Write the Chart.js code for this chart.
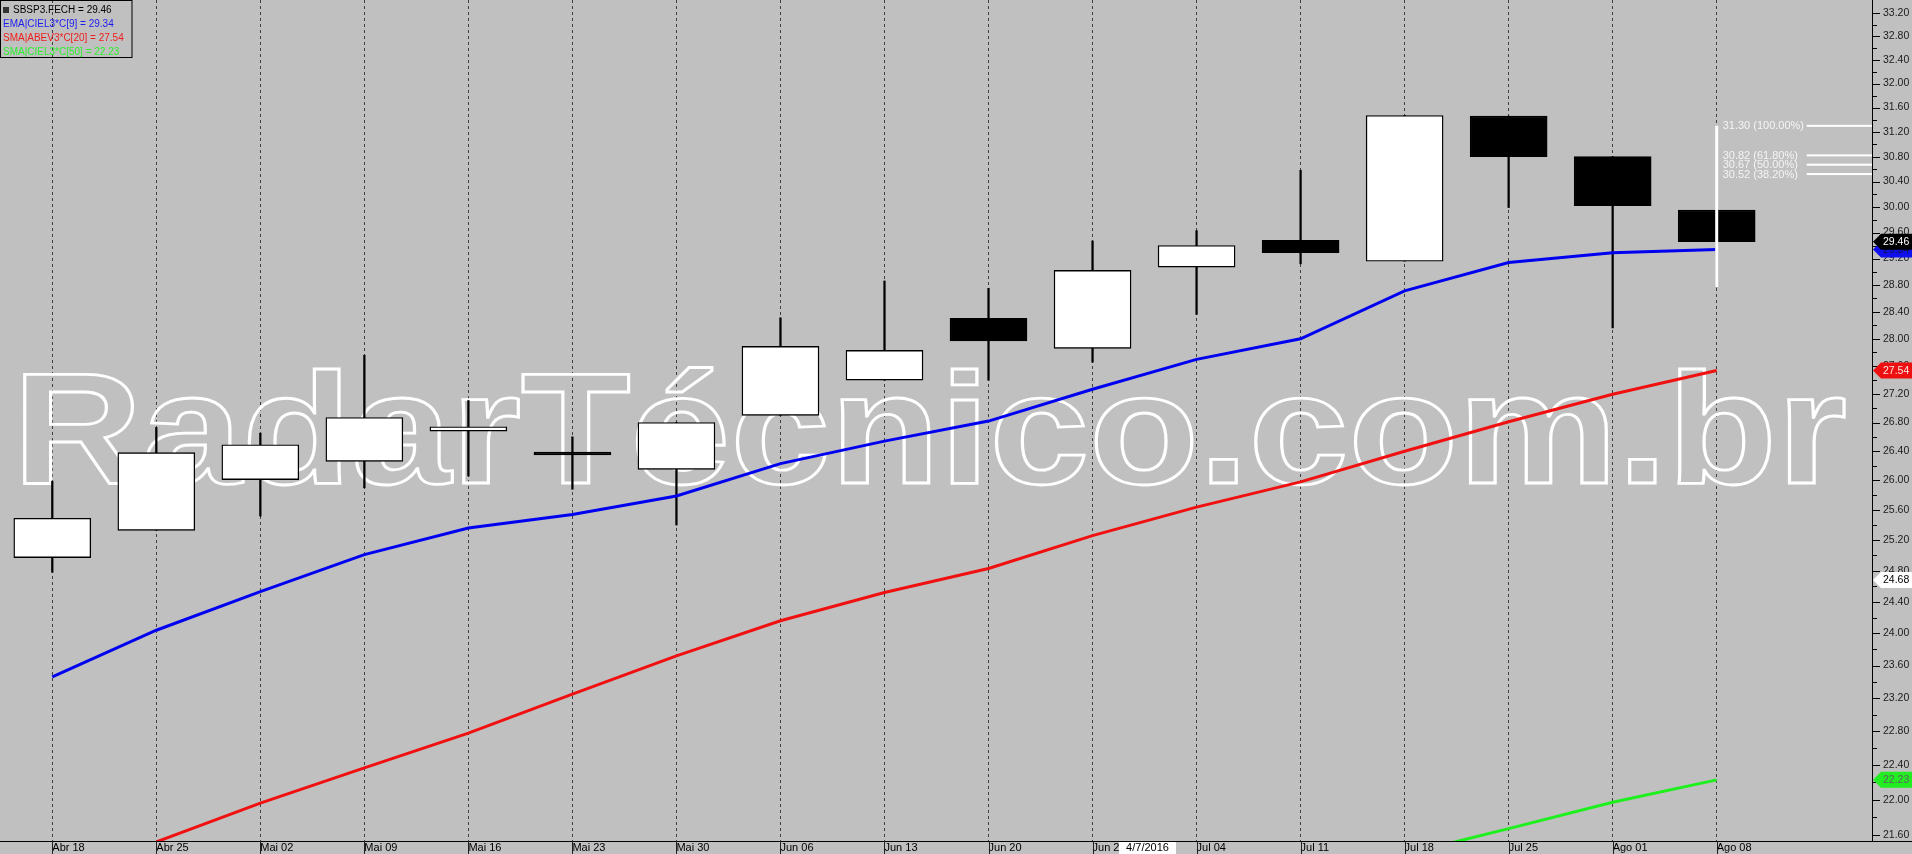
<!DOCTYPE html>
<html>
<head>
<meta charset="utf-8">
<title>SBSP3 semanal</title>
<script src="https://cdn.jsdelivr.net/npm/chart.js@4.4.1/dist/chart.umd.min.js"></script>
<style>
    html, body { margin: 0; padding: 0; background: #c0c0c0; overflow: hidden; }
</style>
</head>
<body>
<canvas id="chart" width="1912" height="854"></canvas>
<script>
// Weekly candles (SBSP3)
const weeks = ["Abr 18", "Abr 25", "Mai 02", "Mai 09", "Mai 16", "Mai 23", "Mai 30", "Jun 06", "Jun 13",
    "Jun 20", "Jun 27", "Jul 04", "Jul 11", "Jul 18", "Jul 25", "Ago 01", "Ago 08"];
const openPrices  = [24.97, 25.33, 26.01, 26.26, 26.68, 26.39, 26.15, 26.90, 27.40, 28.30, 27.86, 29.07, 29.48, 29.16, 31.46, 30.80, 29.95];
const closePrices = [25.49, 26.38, 26.49, 26.87, 26.74, 26.35, 26.80, 27.89, 27.83, 27.97, 29.02, 29.40, 29.29, 31.47, 30.80, 30.02, 29.46];
const highPrices  = [25.99, 26.73, 26.65, 27.76, 27.11, 26.60, 26.80, 28.31, 28.86, 28.75, 29.47, 29.63, 30.58, 31.47, 31.46, 30.80, 29.95];
const lowPrices   = [24.78, 25.33, 25.52, 25.90, 26.06, 25.88, 25.40, 26.90, 27.40, 27.40, 27.66, 28.36, 29.12, 29.16, 29.99, 28.16, 28.76];

// Indicators
const ema9  = [23.46, 24.04, 24.53, 25.01, 25.36, 25.54, 25.79, 26.23, 26.54, 26.82, 27.27, 27.70, 28.00, 28.71, 29.14, 29.29, 29.34];
const sma20 = [null, 21.52, 21.96, 22.37, 22.78, 23.25, 23.72, 24.16, 24.52, 24.83, 25.26, 25.64, 25.98, 26.40, 26.81, 27.20, 27.54];
const sma50 = [null, null, null, null, null, null, null, null, null, null, null, null, null, 21.38, 21.67, 21.97, 22.23];
const markerValue = 24.68;

// Fibonacci retracement
const fibValues = [31.30, 30.82, 30.67, 30.52];
const fibLabels = ["31.30 (100.00%)", "30.82 (61.80%)", "30.67 (50.00%)", "30.52 (38.20%)"];
const fibLow = 28.76;
const fibIndex = 16;

// Axis
const yTickLabels = ["21.60", "22.00", "22.40", "22.80", "23.20", "23.60", "24.00", "24.40", "24.80", "25.20",
    "25.60", "26.00", "26.40", "26.80", "27.20", "27.60", "28.00", "28.40", "28.80", "29.20",
    "29.60", "30.00", "30.40", "30.80", "31.20", "31.60", "32.00", "32.40", "32.80", "33.20"];
const yMin = 21.53;
const yMax = 33.43;
const xMin = -0.5027;
const xMax = 17.493;
const crosshairDate = "4/7/2016";

const FONT = '"Liberation Sans", Arial, sans-serif';

const bodyData = weeks.map((w, i) => ({ x: i, y: [openPrices[i], closePrices[i]] }));
const wickData = weeks.map((w, i) => ({ x: i, y: [lowPrices[i], highPrices[i]] }));
const bodyColors = weeks.map((w, i) => closePrices[i] >= openPrices[i] ? "#ffffff" : "#000000");
const toPoints = arr => arr.map((v, i) => ({ x: i, y: v }));

function drawTag(ctx, y, fill, textColor, text) {
    ctx.beginPath();
    ctx.moveTo(1873, y);
    ctx.lineTo(1881, y - 8);
    ctx.lineTo(1912, y - 8);
    ctx.lineTo(1912, y + 8);
    ctx.lineTo(1881, y + 8);
    ctx.closePath();
    ctx.fillStyle = fill;
    ctx.fill();
    ctx.fillStyle = textColor;
    ctx.fillText(text, 1883, y + 0.5);
}

const radarPlugin = {
    id: "radar",
    beforeDraw(chart) {
        const ctx = chart.ctx;
        ctx.save();
        ctx.fillStyle = "#c0c0c0";
        ctx.fillRect(0, 0, chart.width, chart.height);
        ctx.restore();
    },
    beforeDatasetsDraw(chart) {
        // watermark
        const ctx = chart.ctx;
        const text = "RadarTécnico.com.br";
        ctx.save();
        ctx.font = "bold 158px " + FONT;
        const m = ctx.measureText(text);
        const w = m.actualBoundingBoxLeft + m.actualBoundingBoxRight;
        const sx = (1845 - 24) / w;
        ctx.translate(24 + m.actualBoundingBoxLeft * sx, 482.5);
        ctx.scale(sx, 1);
        ctx.lineWidth = 2.8;
        ctx.strokeStyle = "#ffffff";
        ctx.strokeText(text, 0, 0);
        ctx.restore();
    },
    afterDatasetsDraw(chart) {
        // fibonacci lines
        const ctx = chart.ctx;
        const xs = chart.scales.x, ys = chart.scales.y;
        const fx = xs.getPixelForValue(fibIndex);
        const top = ys.getPixelForValue(fibValues[0]);
        const bottom = ys.getPixelForValue(fibLow);
        ctx.save();
        ctx.fillStyle = "#ffffff";
        ctx.fillRect(fx - 1.5, top, 3, bottom - top);
        ctx.font = "11px " + FONT;
        ctx.textBaseline = "middle";
        ctx.textAlign = "left";
        fibValues.forEach((v, i) => {
            const y = ys.getPixelForValue(v);
            ctx.fillStyle = "#f4f4f4";
            ctx.fillText(fibLabels[i], fx + 6, y + 0.5);
            ctx.fillStyle = "#ffffff";
            ctx.fillRect(fx + 90, y - 1, chart.chartArea.right - fx - 90, 2);
        });
        ctx.restore();
    },
    afterDraw(chart) {
        const ctx = chart.ctx;
        const xs = chart.scales.x, ys = chart.scales.y;
        const area = chart.chartArea;
        ctx.save();

        // axis lines
        ctx.strokeStyle = "#000000";
        ctx.lineWidth = 1;
        ctx.beginPath();
        ctx.moveTo(0, area.bottom + 0.5);
        ctx.lineTo(chart.width, area.bottom + 0.5);
        ctx.moveTo(area.right + 0.5, 0);
        ctx.lineTo(area.right + 0.5, area.bottom);
        ctx.stroke();

        // separators in the date row
        ctx.strokeStyle = "#202020";
        ctx.beginPath();
        weeks.forEach((w, i) => {
            const x = Math.round(xs.getPixelForValue(i)) + 0.5;
            ctx.moveTo(x, area.bottom);
            ctx.lineTo(x, chart.height);
        });
        ctx.stroke();

        // price ticks
        ctx.strokeStyle = "#000000";
        ctx.beginPath();
        yTickLabels.forEach((s, i) => {
            const v = parseFloat(s);
            const y = Math.round(ys.getPixelForValue(v)) + 0.5;
            ctx.moveTo(area.right, y);
            ctx.lineTo(area.right + 8, y);
            if (i < yTickLabels.length - 1) {
                const ym = Math.round(ys.getPixelForValue((v + parseFloat(yTickLabels[i + 1])) / 2)) + 0.5;
                ctx.moveTo(area.right, ym);
                ctx.lineTo(area.right + 5, ym);
            }
        });
        ctx.stroke();

        // price tags
        ctx.font = "10.5px " + FONT;
        ctx.textBaseline = "middle";
        ctx.textAlign = "left";
        drawTag(ctx, ys.getPixelForValue(markerValue), "#ffffff", "#000000", markerValue.toFixed(2));
        drawTag(ctx, ys.getPixelForValue(sma50.at(-1)), "#22ee22", "#606060", sma50.at(-1).toFixed(2));
        drawTag(ctx, ys.getPixelForValue(sma20.at(-1)), "#ee1010", "#ffe4e4", sma20.at(-1).toFixed(2));
        drawTag(ctx, ys.getPixelForValue(ema9.at(-1)), "#1010ee", "#101040", ema9.at(-1).toFixed(2));
        drawTag(ctx, ys.getPixelForValue(closePrices.at(-1)), "#000000", "#ffffff", closePrices.at(-1).toFixed(2));

        // legend box
        ctx.strokeStyle = "#000000";
        ctx.strokeRect(0.5, 0.5, 131.5, 57);
        ctx.fillStyle = "#333333";
        ctx.fillRect(3, 7, 6, 6);
        ctx.font = "10px " + FONT;
        const rows = [
            { text: "SBSP3.FECH = " + closePrices.at(-1).toFixed(2), color: "#000000", x: 13 },
            { text: "EMA|CIEL3*C[9] = " + ema9.at(-1).toFixed(2), color: "#1c1cf0", x: 3 },
            { text: "SMA|ABEV3*C[20] = " + sma20.at(-1).toFixed(2), color: "#f01c1c", x: 3 },
            { text: "SMA|CIEL3*C[50] = " + sma50.at(-1).toFixed(2), color: "#2cf02c", x: 3 }
        ];
        rows.forEach((r, i) => {
            ctx.fillStyle = r.color;
            ctx.fillText(r.text, r.x, 10.5 + i * 14);
        });

        // crosshair date
        ctx.fillStyle = "#ffffff";
        ctx.fillRect(1119, area.bottom + 1, 57, chart.height - area.bottom - 1);
        ctx.fillStyle = "#000000";
        ctx.font = "11px " + FONT;
        ctx.textAlign = "center";
        ctx.fillText(crosshairDate, 1147.5, area.bottom + 7);

        ctx.restore();
    }
};

new Chart(document.getElementById("chart"), {
    type: "bar",
    data: {
        datasets: [
            {
                type: "line", label: "EMA9", data: toPoints(ema9), order: 1,
                borderColor: "#0000f0", borderWidth: 3, pointRadius: 0, tension: 0, clip: 0
            },
            {
                type: "line", label: "SMA20", data: toPoints(sma20), order: 1,
                borderColor: "#f01010", borderWidth: 3, pointRadius: 0, tension: 0, clip: 0
            },
            {
                type: "line", label: "SMA50", data: toPoints(sma50), order: 1,
                borderColor: "#1ef01e", borderWidth: 3, pointRadius: 0, tension: 0, clip: 0
            },
            {
                label: "corpo", data: bodyData, order: 2, grouped: false,
                backgroundColor: bodyColors, borderColor: "#000000", borderWidth: 1.4, borderSkipped: false,
                barThickness: 77, categoryPercentage: 1, barPercentage: 77 / 104.03
            },
            {
                label: "pavio", data: wickData, order: 3, grouped: false,
                backgroundColor: "#000000", borderWidth: 0,
                barThickness: 1.6, categoryPercentage: 1, barPercentage: 1.6 / 104.03
            }
        ]
    },
    options: {
        responsive: false,
        animation: false,
        events: [],
        layout: { padding: 0 },
        plugins: { legend: { display: false }, tooltip: { enabled: false } },
        scales: {
            x: {
                type: "linear", min: xMin, max: xMax, bounds: "data", offset: false,
                grid: { color: "#404040", lineWidth: 1, drawTicks: false, offset: false },
                border: { display: false, dash: [3, 3] },
                ticks: {
                    autoSkip: false, align: "start", padding: 0, maxRotation: 0,
                    color: "#000000", font: { family: FONT, size: 11 },
                    callback: (v) => weeks[v] ?? ""
                },
                afterBuildTicks: (scale) => { scale.ticks = weeks.map((w, i) => ({ value: i })); },
                afterFit: (scale) => { scale.height = 13; scale.paddingLeft = 0; scale.paddingRight = 0; }
            },
            y: {
                type: "logarithmic", position: "right", min: yMin, max: yMax, bounds: "data",
                grid: { drawOnChartArea: false, drawTicks: false },
                border: { display: false },
                ticks: {
                    autoSkip: false, padding: 11, color: "#1a1a1a", font: { family: FONT, size: 10.5 },
                    callback: (v, i) => yTickLabels[i]
                },
                afterBuildTicks: (scale) => { scale.ticks = yTickLabels.map(s => ({ value: parseFloat(s) })); },
                afterFit: (scale) => { scale.width = 40; scale.paddingTop = 0; scale.paddingBottom = 0; }
            }
        }
    },
    plugins: [radarPlugin]
});
</script>
</body>
</html>
